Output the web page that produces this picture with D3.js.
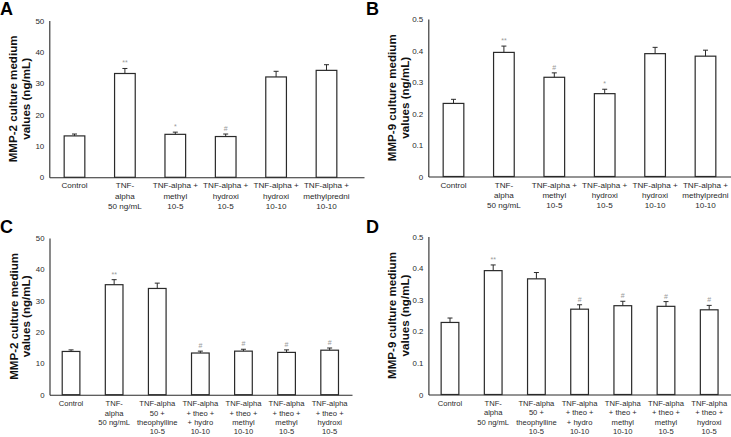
<!DOCTYPE html>
<html>
<head>
<meta charset="utf-8">
<script src="https://cdn.jsdelivr.net/npm/d3@7/dist/d3.min.js"></script>
<style>
  html, body { margin: 0; padding: 0; background: #fff; }
  svg { display: block; font-family: "Liberation Sans", Arial, sans-serif; }
</style>
</head>
<body>
<div id="chart"></div>
<script>
// categories (multi-line labels)
const groupsAB = [
  ["Control"],
  ["TNF-", "alpha", "50 ng/mL"],
  ["TNF-alpha +", "methyl", "10-5"],
  ["TNF-alpha +", "hydroxi", "10-5"],
  ["TNF-alpha +", "hydroxi", "10-10"],
  ["TNF-alpha +", "methylpredni", "10-10"]
];
const groupsCD = [
  ["Control"],
  ["TNF-", "alpha", "50 ng/mL"],
  ["TNF-alpha", "50 +", "theophylline", "10-5"],
  ["TNF-alpha", "+ theo +", "+ hydro", "10-10"],
  ["TNF-alpha", "+ theo +", "methyl", "10-10"],
  ["TNF-alpha", "+ theo +", "methyl", "10-5"],
  ["TNF-alpha", "+ theo +", "hydroxi", "10-5"]
];

// values (mean) and error (SEM)
const mmp2A = [13.2, 33.1, 13.7, 13.0, 32.0, 34.1];
const errA  = [0.6, 1.6, 0.7, 0.8, 1.8, 1.8];
const sigA  = ["", "**", "*", "#", "", ""];

const mmp9B = [0.232, 0.394, 0.315, 0.263, 0.390, 0.382];
const errB  = [0.013, 0.020, 0.014, 0.014, 0.020, 0.019];
const sigB  = ["", "**", "#", "*", "", ""];

const mmp2C = [13.8, 35.1, 33.9, 13.3, 13.9, 13.5, 14.2];
const errC  = [0.5, 1.6, 1.7, 0.6, 0.6, 0.8, 0.7];
const sigC  = ["", "**", "", "#", "#", "#", "#"];

const mmp9D = [0.228, 0.392, 0.366, 0.270, 0.281, 0.279, 0.268];
const errD  = [0.014, 0.018, 0.020, 0.014, 0.014, 0.015, 0.014];
const sigD  = ["", "**", "", "#", "#", "#", "#"];

const ticksMMP2 = [0, 10, 20, 30, 40, 50];
const ticksMMP9 = [0, 0.1, 0.2, 0.3, 0.4, 0.5];

const W = 731, H = 437;
const ink = "#2a2a2a";

const svg = d3.select("#chart").append("svg").attr("width", W).attr("height", H);

function drawPanel(p) {
  const g = svg.append("g");
  const n = p.groups.length;
  const span = p.axisEnd - p.x0;
  const x = d3.scaleBand()
    .domain(d3.range(n))
    .range([p.x0, p.axisEnd])
    .paddingInner(0)
    .paddingOuter((span / p.step - n) / 2)
    .align(0);
  const y = d3.scaleLinear().domain([0, d3.max(p.ticks)]).range([p.yZero, p.yTop]);
  const bw = p.step * 0.41;

  // y axis
  const ya = g.append("g").attr("transform", `translate(${p.x0},0)`)
    .call(d3.axisLeft(y).tickValues(p.ticks).tickSize(0).tickPadding(5)
      .tickFormat(p.fmt));
  ya.select(".domain").attr("stroke", ink).attr("stroke-width", 1.1);
  ya.selectAll("text").attr("fill", ink).style("font-size", p.tickFont + "px")
    .style("font-family", "Liberation Sans, Arial, sans-serif");

  // x axis
  const xa = g.append("g").attr("transform", `translate(0,${p.yZero})`)
    .call(d3.axisBottom(x).tickSize(0).tickFormat(""));
  xa.select(".domain").attr("stroke", ink).attr("stroke-width", 1.1);
  xa.selectAll(".tick text").remove();
  xa.selectAll(".tick").append("text")
    .attr("fill", ink)
    .attr("text-anchor", "middle")
    .style("font-size", p.catFont + "px")
    .style("font-family", "Liberation Sans, Arial, sans-serif")
    .each(function(i) {
      const t = d3.select(this);
      p.groups[i].forEach((line, k) => {
        t.append("tspan").attr("x", 0).attr("y", p.labelY + k * p.lineH).text(line);
      });
    });

  // bars
  const cx = i => x(i) + x.bandwidth() / 2;
  g.append("g").selectAll("rect").data(p.values).join("rect")
    .attr("x", (d, i) => cx(i) - bw / 2)
    .attr("y", d => y(d))
    .attr("width", bw)
    .attr("height", d => p.yZero - y(d))
    .attr("fill", "#fff").attr("stroke", ink).attr("stroke-width", 1.2);

  // error bars
  const eb = g.append("g").attr("stroke", ink).attr("stroke-width", 1);
  eb.selectAll("line.v").data(p.values).join("line").attr("class", "v")
    .attr("x1", (d, i) => cx(i)).attr("x2", (d, i) => cx(i))
    .attr("y1", d => y(d)).attr("y2", (d, i) => y(d + p.err[i]));
  eb.selectAll("line.c").data(p.values).join("line").attr("class", "c")
    .attr("x1", (d, i) => cx(i) - 2.5).attr("x2", (d, i) => cx(i) + 2.5)
    .attr("y1", (d, i) => y(d + p.err[i])).attr("y2", (d, i) => y(d + p.err[i]));

  // significance marks
  g.append("g").selectAll("text").data(p.values).join("text")
    .attr("x", (d, i) => cx(i))
    .attr("y", (d, i) => y(d + p.err[i]) - 3)
    .attr("text-anchor", "middle")
    .attr("fill", "#999")
    .style("font-size", "7px")
    .text((d, i) => p.sig[i]);

  // y title
  const tx = p.x0 - 36, ty = (p.yZero + p.yTop) / 2;
  const title = g.append("text")
    .attr("transform", `translate(${tx},${ty}) rotate(-90)`)
    .attr("text-anchor", "middle")
    .attr("fill", "#111")
    .style("font-size", "11.6px").style("font-weight", "bold");
  title.append("tspan").attr("x", 0).attr("y", 4).text(p.title);
  title.append("tspan").attr("x", 0).attr("y", 16.5).text("values (ng/mL)");

  // panel letter
  g.append("text").attr("x", p.lx).attr("y", p.ly)
    .attr("fill", "#000")
    .style("font-size", "18px").style("font-weight", "bold")
    .text(p.letter);
}

const fmt2 = d3.format("d");
const fmt9 = d => d === 0 ? "0" : d3.format(".1f")(d);

drawPanel({ letter: "A", lx: 0, ly: 15, groups: groupsAB, values: mmp2A, err: errA, sig: sigA,
  ticks: ticksMMP2, fmt: fmt2, title: "MMP-2 culture medium",
  x0: 49.3, step: 50.4, axisEnd: 364, yTop: 20.5, yZero: 177.3,
  tickFont: 8, catFont: 8.1, labelY: 11, lineH: 10.3 });
drawPanel({ letter: "B", lx: 366, ly: 15, groups: groupsAB, values: mmp9B, err: errB, sig: sigB,
  ticks: ticksMMP9, fmt: fmt9, title: "MMP-9 culture medium",
  x0: 428.3, step: 50.4, axisEnd: 731, yTop: 19, yZero: 176.5,
  tickFont: 8, catFont: 8.1, labelY: 11, lineH: 10.3 });
drawPanel({ letter: "C", lx: 0, ly: 233, groups: groupsCD, values: mmp2C, err: errC, sig: sigC,
  ticks: ticksMMP2, fmt: fmt2, title: "MMP-2 culture medium",
  x0: 49.5, step: 43.1, axisEnd: 352, yTop: 238, yZero: 394.7,
  tickFont: 7.8, catFont: 7.6, labelY: 11.5, lineH: 9.4 });
drawPanel({ letter: "D", lx: 366, ly: 233, groups: groupsCD, values: mmp9D, err: errD, sig: sigD,
  ticks: ticksMMP9, fmt: fmt9, title: "MMP-9 culture medium",
  x0: 428.4, step: 43.2, axisEnd: 731, yTop: 236.5, yZero: 394.5,
  tickFont: 7.8, catFont: 7.6, labelY: 11.5, lineH: 9.4 });
</script>
</body>
</html>
